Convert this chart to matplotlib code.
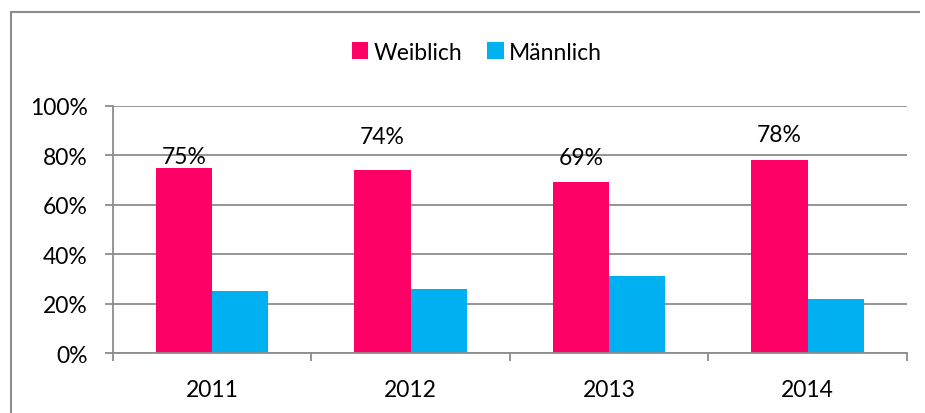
import matplotlib.pyplot as plt
from matplotlib.lines import Line2D
from matplotlib.ticker import FixedLocator, PercentFormatter

# data
years = ['2011', '2012', '2013', '2014']
weiblich = [75, 74, 69, 78]
maennlich = [25, 26, 31, 22]
series_names = ['Weiblich', 'Männlich']

pink = '#FF0066'
blue = '#00B0F0'
grid_grey = '#8C8C8C'

plt.rcParams['font.family'] = ['Lato', 'DejaVu Sans']
fs = 16.5

fig = plt.figure(figsize=(9.25, 4.14), dpi=100)
ax = fig.add_axes([0.1218, 0.1449, 0.8587, 0.5974])

x = list(range(len(years)))
w = 0.283
ax.bar([i - w / 2 for i in x], weiblich, width=w, color=pink, label=series_names[0], zorder=3)
ax.bar([i + w / 2 for i in x], maennlich, width=w, color=blue, label=series_names[1], zorder=3)

# labels only on the first series, Excel had them nudged by hand
label_lift = [4.5, 13.5, 10.0, 10.5]
for i, v in enumerate(weiblich):
    ax.text(i - w / 2, v + label_lift[i], '%d%%' % v, ha='center', va='center', fontsize=fs)

ax.set_xlim(-0.5, len(years) - 0.5)
ax.set_ylim(0, 100)
ax.set_yticks(range(0, 101, 20))
ax.yaxis.set_major_formatter(PercentFormatter(decimals=0))
ax.yaxis.grid(True, color=grid_grey, linewidth=1.3, zorder=0)

ax.set_xticks(x)
ax.set_xticklabels(years)
ax.xaxis.set_minor_locator(FixedLocator([i - 0.5 for i in range(len(years) + 1)]))
ax.tick_params(axis='x', which='major', length=0, pad=19, labelsize=fs)
ax.tick_params(axis='x', which='minor', length=6, width=1.3, color=grid_grey)
ax.tick_params(axis='y', length=6, width=1.3, color=grid_grey, pad=12, labelsize=fs)

for s in ['top', 'right']:
    ax.spines[s].set_visible(False)
for s in ['left', 'bottom']:
    ax.spines[s].set_color(grid_grey)
    ax.spines[s].set_linewidth(1.3)
    ax.spines[s].set_zorder(4)

ax.legend(loc='center', bbox_to_anchor=(477 / 925, 1 - 53 / 414), bbox_transform=fig.transFigure,
          ncol=2, frameon=False, handlelength=0.7, handleheight=0.7, handletextpad=0.25,
          columnspacing=1.1, fontsize=fs)

# chart area border (cut off at the bottom in the original)
border = dict(color=grid_grey, linewidth=1.5, transform=fig.transFigure)
fig.add_artist(Line2D([0.0115, 0.0115], [0.0, 0.968], **border))
fig.add_artist(Line2D([0.0115, 0.994], [0.968, 0.968], **border))

fig.savefig('out.png', dpi=100)
